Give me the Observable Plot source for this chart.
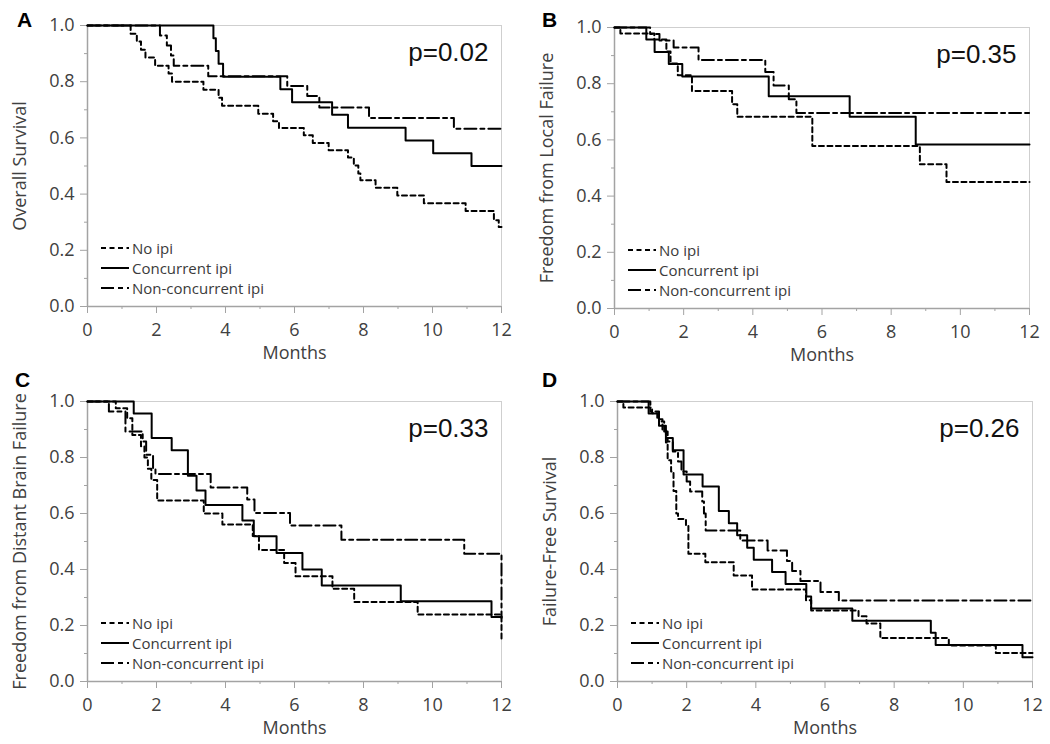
<!DOCTYPE html>
<html>
<head>
<meta charset="utf-8">
<script src="https://cdn.jsdelivr.net/npm/d3@7"></script>
<script src="https://cdn.jsdelivr.net/npm/@observablehq/plot@0.6"></script>
<style>
  html, body { margin: 0; padding: 0; background: #fff; }
  #root { position: relative; width: 1050px; height: 744px; background: #fff; overflow: hidden; }
  .panel { position: absolute; }
  .letter { position: absolute; font: bold 21px 'Liberation Sans', Arial, sans-serif; line-height: 21px; color: #000; }
  .legend { position: absolute; font: 15px 'Open Sans', sans-serif; color: #3a3a3a; }
  .legend .row { display: flex; align-items: center; height: 20px; white-space: nowrap; }
  .legend svg { display: block; margin-right: 3px; }
</style>
</head>
<body>
<div id="root"></div>
<script>
// ---------------- data (time in months, survival proportion) ----------------
const groupNames = ["No ipi", "Concurrent ipi", "Non-concurrent ipi"];
const xMajorTicks = [0, 2, 4, 6, 8, 10, 12];
const xMinorTicks = [1, 3, 5, 7, 9, 11];
const yMajorTicks = [0, 0.2, 0.4, 0.6, 0.8, 1.0];
const yMinorTicks = [0.1, 0.3, 0.5, 0.7, 0.9];

// Panel A: Overall Survival
const A_noIpi = [[0,1],[1.25,0.971],[1.43,0.943],[1.55,0.914],[1.68,0.886],[1.96,0.857],[2.35,0.829],[2.45,0.8],[3.36,0.771],[3.8,0.743],[3.9,0.714],[4.95,0.686],[5.38,0.659],[5.55,0.635],[6.27,0.609],[6.53,0.582],[6.99,0.556],[7.55,0.53],[7.72,0.502],[7.85,0.473],[7.91,0.449],[8.35,0.423],[8.98,0.395],[9.75,0.367],[10.96,0.34],[11.78,0.307],[11.92,0.283],[12,0.283]];
const A_conc = [[0,1],[3.65,0.955],[3.72,0.909],[3.8,0.864],[3.93,0.818],[5.59,0.773],[5.93,0.727],[7.09,0.682],[7.55,0.636],[9.22,0.591],[10.02,0.545],[11.13,0.5],[12,0.5]];
const A_nonConc = [[0,1],[2.1,0.964],[2.3,0.929],[2.42,0.893],[2.5,0.857],[3.5,0.819],[5.79,0.785],[6.37,0.749],[6.72,0.708],[8.16,0.671],[10.62,0.633],[12,0.633]];

// Panel B: Freedom from Local Failure
const B_noIpi = [[0,1],[0.17,0.979],[1.15,0.957],[1.5,0.915],[1.62,0.872],[1.83,0.83],[2.24,0.774],[3.4,0.727],[3.55,0.682],[5.72,0.578],[8.83,0.513],[9.6,0.45],[12,0.45]];
const B_conc = [[0,1],[0.92,0.957],[1.16,0.913],[1.57,0.87],[1.96,0.826],[4.46,0.755],[6.8,0.682],[8.71,0.584],[12,0.584]];
const B_nonConc = [[0,1],[1.03,0.977],[1.3,0.954],[1.71,0.929],[2.43,0.884],[4.36,0.842],[4.6,0.794],[5.04,0.745],[5.26,0.696],[12,0.696]];

// Panel C: Freedom from Distant Brain Failure
const C_noIpi = [[0,1],[0.82,0.976],[1.15,0.94],[1.3,0.88],[1.55,0.84],[1.65,0.8],[1.75,0.76],[1.85,0.72],[2.02,0.646],[3.37,0.6],[3.91,0.561],[4.79,0.52],[4.97,0.47],[5.7,0.423],[6.03,0.376],[7.1,0.331],[7.73,0.284],[9.57,0.239],[12,0.147]];
const C_conc = [[0,1],[1.34,0.957],[1.86,0.87],[2.44,0.826],[2.91,0.735],[3.16,0.682],[3.42,0.63],[4.49,0.575],[4.82,0.519],[5.48,0.459],[6.23,0.4],[6.79,0.343],[9.08,0.287],[11.71,0.23],[12,0.23]];
const C_nonConc = [[0,1],[0.62,0.964],[1.1,0.893],[1.6,0.857],[1.7,0.81],[1.9,0.762],[1.97,0.741],[3.57,0.693],[4.63,0.65],[4.84,0.602],[5.87,0.557],[7.36,0.506],[10.92,0.456],[12,0.227]];

// Panel D: Failure-Free Survival
const D_noIpi = [[0,1],[0.17,0.979],[1.0,0.958],[1.15,0.937],[1.3,0.896],[1.4,0.854],[1.45,0.79],[1.55,0.75],[1.62,0.68],[1.7,0.6],[1.75,0.58],[1.98,0.556],[2.05,0.456],[2.54,0.426],[3.36,0.379],[3.89,0.329],[5.45,0.29],[5.6,0.254],[6.97,0.233],[7.2,0.207],[7.6,0.155],[9.58,0.129],[10.94,0.102],[12,0.102]];
const D_conc = [[0,1],[0.9,0.957],[1.2,0.913],[1.4,0.87],[1.6,0.826],[1.91,0.739],[2.46,0.696],[2.93,0.609],[3.22,0.565],[3.46,0.522],[3.75,0.478],[3.94,0.435],[4.47,0.391],[4.86,0.348],[5.46,0.304],[5.6,0.261],[6.79,0.217],[9.06,0.174],[9.2,0.13],[11.71,0.087],[12,0.087]];
const D_nonConc = [[0,1],[0.95,0.964],[1.2,0.929],[1.35,0.893],[1.45,0.857],[1.6,0.821],[1.75,0.786],[1.85,0.75],[2.0,0.714],[2.1,0.679],[2.45,0.643],[2.5,0.6],[2.55,0.539],[3.55,0.504],[4.34,0.468],[4.9,0.43],[5.05,0.395],[5.29,0.359],[5.87,0.32],[6.4,0.289],[12,0.289]];

const panelLetters = ["A", "B", "C", "D"];
const yLabels = ["Overall Survival", "Freedom from Local Failure", "Freedom from Distant Brain Failure", "Failure-Free Survival"];
const pValues = ["p=0.02", "p=0.35", "p=0.33", "p=0.26"];
const xLabel = "Months";

// ---------------- layout / style ----------------
const seriesByPanel = [
  [A_noIpi, A_conc, A_nonConc],
  [B_noIpi, B_conc, B_nonConc],
  [C_noIpi, C_conc, C_nonConc],
  [D_noIpi, D_conc, D_nonConc]
];
const layout = [
  {left: 0,   top: 0,   width: 525, height: 372, mL: 87, mR: 24, mT: 25, mB: 66, lx: 17,  ly: 27},
  {left: 525, top: 0,   width: 525, height: 372, mL: 89, mR: 21, mT: 27, mB: 64, lx: 542, ly: 27},
  {left: 0,   top: 372, width: 525, height: 372, mL: 87, mR: 24, mT: 29, mB: 63, lx: 15,  ly: 387},
  {left: 525, top: 372, width: 525, height: 372, mL: 92, mR: 18, mT: 29, mB: 63, lx: 542, ly: 387}
];
const dashes = ["5,3.5", null, "12,4,4,4"];
const legendDashes = ["5,3.5", null, "13,4,5,4"];
const axisGray = "#a3a3a3";
const textGray = "#404040";
const font = "'Open Sans', sans-serif";

const root = document.getElementById("root");

layout.forEach((L, i) => {
  const series = seriesByPanel[i];
  const lineMarks = series.map((s, g) => Plot.line(s.map(([t, v]) => ({t, v})), {
    x: "t", y: "v", curve: "step-after", stroke: "#000", strokeWidth: 2,
    strokeDasharray: dashes[g] || undefined
  }));

  const chart = Plot.plot({
    width: L.width, height: L.height,
    marginLeft: L.mL, marginRight: L.mR, marginTop: L.mT, marginBottom: L.mB,
    style: {background: "transparent", fontFamily: font, fontSize: "18px", color: textGray, overflow: "visible"},
    x: {domain: [0, 12], label: null},
    y: {domain: [0, 1], label: null},
    marks: [
      Plot.frame({stroke: "#cfcfcf"}),
      Plot.ruleX([0], {stroke: axisGray, strokeWidth: 1.5}),
      Plot.ruleY([0], {stroke: axisGray, strokeWidth: 1.5}),
      Plot.axisY(yMajorTicks, {tickSize: 7, tickPadding: 6, tickFormat: d3.format(".1f"), stroke: axisGray, fill: textGray, label: null}),
      Plot.axisY(yMinorTicks, {tickSize: 3, tickFormat: () => "", stroke: axisGray, label: null}),
      Plot.axisX(xMajorTicks, {tickSize: 7, tickPadding: 10, tickFormat: d3.format("d"), stroke: axisGray, fill: textGray, label: null}),
      Plot.axisX(xMinorTicks, {tickSize: 3, tickFormat: () => "", stroke: axisGray, label: null}),
      ...lineMarks,
      Plot.text([pValues[i]], {frameAnchor: "top-right", dx: -13, dy: 17, lineAnchor: "top", textAnchor: "end",
        fontSize: 26, fontFamily: "'Liberation Sans', Arial, sans-serif", fill: "#111"}),
      Plot.text([yLabels[i]], {frameAnchor: "left", rotate: -90, dx: -67, textAnchor: "middle", fontSize: 18, fill: textGray}),
      Plot.text([xLabel], {frameAnchor: "bottom", dy: 52, textAnchor: "middle", fontSize: 18, fill: textGray})
    ]
  });
  const wrap = document.createElement("div");
  wrap.className = "panel";
  wrap.style.left = L.left + "px";
  wrap.style.top = L.top + "px";
  wrap.appendChild(chart);
  root.appendChild(wrap);

  // legend inside plot, lower-left
  const leg = document.createElement("div");
  leg.className = "legend";
  leg.style.left = (L.left + L.mL + 14) + "px";
  leg.style.top = (L.top + L.height - L.mB - 68) + "px";
  groupNames.forEach((name, g) => {
    const row = document.createElement("div");
    row.className = "row";
    const da = legendDashes[g] ? ` stroke-dasharray="${legendDashes[g]}"` : "";
    row.innerHTML = `<svg width="28" height="10"><line x1="0" x2="28" y1="5" y2="5" stroke="#000" stroke-width="2"${da}/></svg><span>${name}</span>`;
    leg.appendChild(row);
  });
  root.appendChild(leg);

  // panel letter
  const let_ = document.createElement("div");
  let_.className = "letter";
  let_.textContent = panelLetters[i];
  let_.style.left = L.lx + "px";
  let_.style.top = (L.ly - 18) + "px";
  root.appendChild(let_);
});
</script>
</body>
</html>
